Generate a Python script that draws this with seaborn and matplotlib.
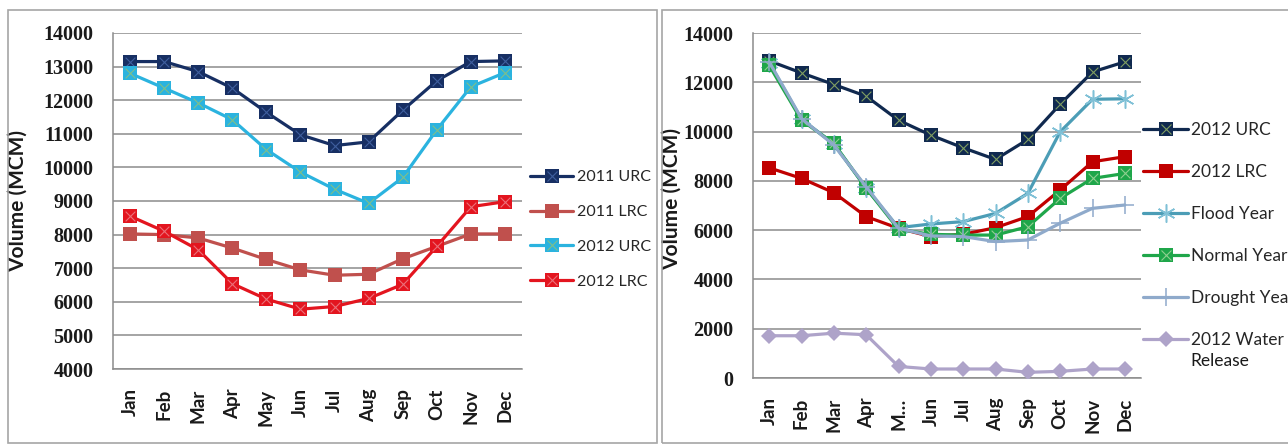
import matplotlib
matplotlib.use("Agg")
import matplotlib.pyplot as plt
from matplotlib.patches import Rectangle
from matplotlib.lines import Line2D
from matplotlib.legend_handler import HandlerTuple
import seaborn as sns

# ---- data -------------------------------------------------------------
months = ["Jan", "Feb", "Mar", "Apr", "May", "Jun",
          "Jul", "Aug", "Sep", "Oct", "Nov", "Dec"]
months_right = ["Jan", "Feb", "Mar", "Apr", "M\u2026", "Jun",
                "Jul", "Aug", "Sep", "Oct", "Nov", "Dec"]

# left panel (MCM)
urc_2011 = [13150, 13150, 12850, 12360, 11640, 10970, 10650, 10760, 11700, 12580, 13150, 13170]
lrc_2011 = [8020, 8000, 7900, 7600, 7260, 6950, 6790, 6820, 7280, 7650, 8020, 8020]
urc_2012_l = [12800, 12360, 11920, 11420, 10530, 9860, 9350, 8930, 9700, 11120, 12400, 12820]
lrc_2012_l = [8550, 8100, 7550, 6540, 6080, 5780, 5860, 6100, 6520, 7650, 8830, 8980]

# right panel (MCM)
urc_2012 = [12870, 12380, 11910, 11435, 10460, 9855, 9340, 8870, 9680, 11110, 12420, 12830]
lrc_2012 = [8530, 8100, 7520, 6550, 6075, 5740, 5830, 6100, 6550, 7630, 8775, 8980]
flood_year = [12800, 10500, 9500, 7700, 6100, 6250, 6345, 6680, 7490, 9990, 11310, 11330]
normal_year = [12690, 10460, 9520, 7700, 6035, 5830, 5800, 5800, 6140, 7290, 8100, 8300]
drought_year = [12830, 10530, 9450, 7760, 6075, 5765, 5740, 5535, 5600, 6280, 6885, 7020]
water_release = [1715, 1715, 1820, 1755, 470, 365, 365, 365, 230, 270, 365, 365]

left_ticks = list(range(4000, 14001, 1000))
right_ticks = list(range(0, 14001, 2000))

# ---- style ------------------------------------------------------------
sns.set_style("white")
plt.rcParams["font.family"] = ["Lato", "DejaVu Sans"]
SERIF = ["Liberation Serif", "DejaVu Serif"]
GRID = "#8c8c8c"
W, H = 1288, 444

fig = plt.figure(figsize=(W / 100, H / 100), dpi=100)
fig.patch.set_facecolor("white")

# panel frames
fig.add_artist(Rectangle((8 / W, 1 / H), 649 / W, 1 - 11 / H, transform=fig.transFigure,
                         fill=False, edgecolor="#a6a6a6", lw=1.2))
fig.add_artist(Rectangle((662 / W, 1 / H), 640 / W, 1 - 11 / H, transform=fig.transFigure,
                         fill=False, edgecolor="#a6a6a6", lw=1.2))

ax1 = fig.add_axes([113 / W, 1 - 369 / H, 409 / W, 336 / H])
ax2 = fig.add_axes([753 / W, 1 - 378 / H, 388 / W, 345 / H])

x = list(range(12))


def series(ax, y, color, lw=2.3, marker="s", ms=9.5, mcolor=None, over=None,
           over_color=None, over_ms=7, over_mew=0.8, mew=0, z=2):
    sns.lineplot(x=x, y=y, ax=ax, color=color, lw=lw, marker=marker, markersize=ms,
                 markerfacecolor=mcolor or color, markeredgecolor=mcolor or color,
                 markeredgewidth=mew, zorder=z, legend=False)
    h = [Line2D([], [], color=color, lw=lw, marker=marker, markersize=ms,
                markerfacecolor=mcolor or color, markeredgecolor=mcolor or color,
                markeredgewidth=mew)]
    if over is not None:
        sns.scatterplot(x=x, y=y, ax=ax, marker=over, s=over_ms ** 2, color=over_color,
                        linewidth=over_mew, zorder=z + 0.5, legend=False)
        h.append(Line2D([], [], ls="none", marker=over, markersize=over_ms,
                        color=over_color, markeredgewidth=over_mew))
    return tuple(h)


# left panel
h1 = series(ax1, urc_2011, "#172f63", over="x", over_color="#3f5f9e", z=2)
h2 = series(ax1, lrc_2011, "#c0504d", z=3)
h3 = series(ax1, urc_2012_l, "#2bb3df", over="x", over_color="#7fbf8a", z=4)
h4 = series(ax1, lrc_2012_l, "#e3151f", over="x", over_color="#ec6f78", z=5)

# right panel
g1 = series(ax2, urc_2012, "#10294f", over="x", over_color="#7f9e62", z=2)
g2 = series(ax2, lrc_2012, "#c00000", z=3)
g3 = series(ax2, flood_year, "#4c9db6", marker=(6, 2, 0), ms=13, mcolor="#7fc0d6", mew=1.1, z=4)
g4 = series(ax2, normal_year, "#1fa64a", over="x", over_color="#8fcf8f", z=5)
g5 = series(ax2, drought_year, "#8faacb", marker="+", ms=13, mcolor="#8faacb", mew=1.1, z=6)
g6 = series(ax2, water_release, "#aea3c9", marker="D", ms=8, mcolor="#aea3c9", z=7)

# ---- axes formatting ----------------------------------------------------
for ax, lo, hi, ticks, labels in [(ax1, 4000, 14000, left_ticks, months),
                                  (ax2, 0, 14000, right_ticks, months_right)]:
    ax.set_xlim(-0.5, 11.5)
    ax.set_ylim(lo, hi)
    ax.set_yticks(ticks)
    ax.set_yticklabels([str(t) for t in ticks], fontfamily=SERIF, fontweight="bold",
                       fontsize=14.5, color="#1a1a1a")
    ax.set_xticks(x)
    ax.set_xticklabels(labels, rotation=90, fontweight="bold", fontsize=13.5,
                       color="#1a1a1a")
    ax.tick_params(axis="both", length=0)
    ax.tick_params(axis="y", pad=14)
    ax.tick_params(axis="x", pad=14)
    ax.grid(axis="y", color=GRID, lw=1.1, zorder=0)
    ax.set_axisbelow(True)
    for s in ["top", "right"]:
        ax.spines[s].set_visible(False)
    for s in ["left", "bottom"]:
        ax.spines[s].set_color(GRID)
        ax.spines[s].set_linewidth(1.1)
    ax.set_ylabel("Volume (MCM)", fontweight="bold", fontsize=15, color="#1a1a1a")

ax1.yaxis.set_label_coords((28 - 113) / 409, 0.5)
ax2.yaxis.set_label_coords((682 - 753) / 388, 0.52)

# ---- legends ------------------------------------------------------------
hm = {tuple: HandlerTuple(ndivide=1, pad=0)}
fig.legend([h1, h2, h3, h4], ["2011 URC", "2011 LRC", "2012 URC", "2012 LRC"],
           handler_map=hm, loc="upper left", bbox_to_anchor=(530 / W, 1 - 170 / H),
           frameon=False, borderpad=0, borderaxespad=0, fontsize=11.5,
           handlelength=2.7, handletextpad=0.25, labelspacing=1.3, numpoints=1)
leg2 = fig.legend([g1, g2, g3, g4, g5, g6],
                  ["2012 URC", "2012 LRC", "Flood Year", "Normal Year", "Drought Year",
                   "2012 Water"],
                  handler_map=hm, loc="upper left", bbox_to_anchor=(1143 / W, 1 - 122 / H),
                  frameon=False, borderpad=0, borderaxespad=0, fontsize=12.5,
                  handlelength=2.6, handletextpad=0.15, labelspacing=1.5, numpoints=1)

fig.canvas.draw()
bb = leg2.get_texts()[-1].get_window_extent()
fig.text(bb.x0 / W, (bb.y0 - 5) / H, "Release", fontsize=12.5, va="top", ha="left",
         color="#1a1a1a")

fig.savefig("out.png", dpi=100, facecolor="white")
